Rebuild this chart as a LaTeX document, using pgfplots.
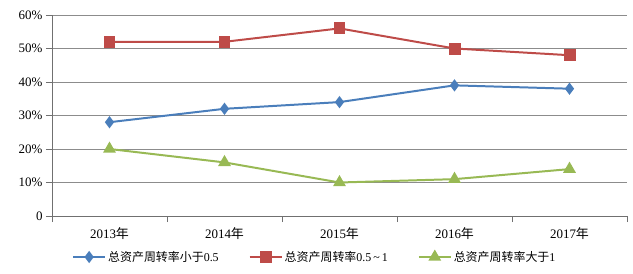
\documentclass[border=0pt]{standalone}
\usepackage{fontspec}
\setmainfont{Liberation Serif}
\newfontfamily\cjk{Noto Sans CJK SC}
\usepackage{pgfplots}
\pgfplotsset{compat=1.18}
\definecolor{cblue}{HTML}{4A7EBB}
\definecolor{cred}{HTML}{BE4B48}
\definecolor{cgreen}{HTML}{98B954}
\definecolor{cgrid}{HTML}{8C8C8C}
\begin{document}
\begin{tikzpicture}
\useasboundingbox (-52bp,-58bp) rectangle (581bp,216bp);
\begin{axis}[
  at={(0,0)}, anchor=south west,
  scale only axis, width=575bp, height=201bp,
  xmin=-0.5, xmax=4.5, ymin=0, ymax=60,
  axis x line=bottom, axis y line=left,
  axis line style={draw=cgrid!80!black, -},
  xtick={0,1,2,3,4},
  xticklabels={2013{\cjk 年},2014{\cjk 年},2015{\cjk 年},2016{\cjk 年},2017{\cjk 年}},
  minor xtick={-0.5,0.5,1.5,2.5,3.5,4.5},
  major x tick style={draw=none},
  minor x tick style={draw=cgrid!80!black},
  minor tick length=6bp,
  major tick length=6bp,
  tick align=outside,
  ytick={0,10,20,30,40,50,60},
  yticklabels={0,10\%,20\%,30\%,40\%,50\%,60\%},
  ymajorgrids, major grid style={draw=cgrid, line width=0.8pt},
  y tick style={draw=cgrid!80!black},
  tick label style={font=\fontsize{13}{15}\selectfont},
  xticklabel style={yshift=-2bp},
  legend style={at={(0.457,-0.204)}, anchor=center, draw=none, fill=none,
    legend columns=3, font=\fontsize{12}{14}\selectfont,
    /tikz/every even column/.append style={column sep=28bp}},
  legend cell align=left,
  legend image code/.code={\draw[mark repeat=2,mark phase=2,#1] plot coordinates {(0bp,0bp) (16bp,0bp) (32bp,0bp)};},
]
\addplot[color=cblue, line width=2pt, mark=diamond*, mark size=4.5bp, mark options={fill=cblue}]
  coordinates {(0,28) (1,32) (2,34) (3,39) (4,38)};
\addlegendentry{\cjk 总资产周转率小于{\rmfamily 0.5}}
\addplot[color=cred, line width=2pt, mark=square*, mark size=5bp, mark options={fill=cred}]
  coordinates {(0,52) (1,52) (2,56) (3,50) (4,48)};
\addlegendentry{\cjk 总资产周转率{\rmfamily 0.5\,\textasciitilde\,1}}
\addplot[color=cgreen, line width=2pt, mark=triangle*, mark size=5.5bp, mark options={fill=cgreen}]
  coordinates {(0,20) (1,16) (2,10) (3,11) (4,14)};
\addlegendentry{\cjk 总资产周转率大于{\rmfamily 1}}
\end{axis}
\end{tikzpicture}
\end{document}
